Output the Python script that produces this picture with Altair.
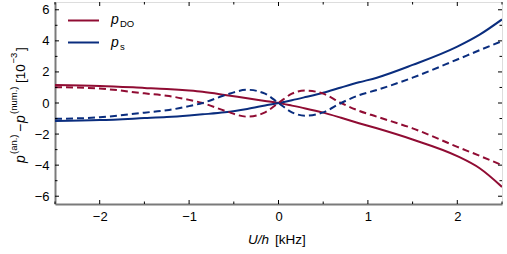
import altair as alt
import pandas as pd

# ---- data ----
x_vals    = [-2.5, -2.0, -1.5, -1.25, -1.0, -0.85, -0.6, -0.35, -0.15, 0.0, 0.15, 0.3, 0.5, 0.7, 0.9, 1.1, 1.5, 2.0, 2.25, 2.5]
do_solid  = [1.16, 1.10, 0.97, 0.90, 0.80, 0.72, 0.52, 0.30, 0.13, 0.0, -0.17, -0.35, -0.62, -0.95, -1.30, -1.63, -2.35, -3.42, -4.20, -5.40]
s_solid   = [-1.16, -1.10, -0.97, -0.90, -0.80, -0.73, -0.60, -0.38, -0.16, 0.0, 0.18, 0.38, 0.66, 1.00, 1.33, 1.63, 2.45, 3.63, 4.40, 5.38]
do_dashed = [1.02, 0.93, 0.62, 0.47, 0.20, 0.0, -0.50, -0.88, -0.60, 0.0, 0.60, 0.80, 0.60, 0.0, -0.50, -0.88, -1.63, -2.82, -3.40, -4.00]
s_dashed  = [-1.02, -0.92, -0.62, -0.47, -0.20, 0.0, 0.50, 0.85, 0.60, 0.0, -0.60, -0.82, -0.60, 0.0, 0.50, 0.84, 1.63, 2.80, 3.40, 3.98]

x_major = [-2, -1, 0, 1, 2]
x_minor = [-2.5, -1.5, -0.5, 0.5, 1.5, 2.5]
y_major = [-6, -4, -2, 0, 2, 4, 6]
y_minor = [-5, -3, -1, 1, 3, 5]

RED = "#900c33"
BLUE = "#0a2d7e"
FONT = "Liberation Sans"
W, H = 447, 202

xs = alt.Scale(domain=[-2.5, 2.5], nice=False, zero=False)
ys = alt.Scale(domain=[-6.5, 6.5], nice=False, zero=False)

def axis(vals):
    return alt.Axis(values=vals, format="~g", ticks=False, grid=False, labelFont=FONT,
                    labelFontSize=13, labelColor="black", labelPadding=6,
                    labelOverlap=False, domainColor="#7a7a7a", domainWidth=2, title=None)

AX = axis(x_major)
AY = axis(y_major)

def line(vals, color, dashed):
    df = pd.DataFrame({"x": x_vals, "y": vals})
    props = dict(color=color, strokeWidth=2, interpolate="monotone", clip=True)
    if dashed:
        props["strokeDash"] = [7, 4]
    return alt.Chart(df).mark_line(**props).encode(
        x=alt.X("x:Q", scale=xs, title=None, axis=AX),
        y=alt.Y("y:Q", scale=ys, title=None, axis=AY),
    )

def xticks(vals, length):
    df = pd.DataFrame({"v": vals})
    base = alt.Chart(df).mark_rule(color="black", strokeWidth=1)
    b = base.encode(x=alt.X("v:Q", scale=xs, title=None, axis=AX), y=alt.value(H), y2=alt.value(H - length))
    t = base.encode(x=alt.X("v:Q", scale=xs, title=None, axis=AX), y=alt.value(0), y2=alt.value(length))
    return [b, t]

def yticks(vals, length):
    df = pd.DataFrame({"v": vals})
    base = alt.Chart(df).mark_rule(color="black", strokeWidth=1)
    l = base.encode(y=alt.Y("v:Q", scale=ys, title=None, axis=AY), x=alt.value(0), x2=alt.value(length))
    r = base.encode(y=alt.Y("v:Q", scale=ys, title=None, axis=AY), x=alt.value(W), x2=alt.value(W - length))
    return [l, r]

def txt(text, x, y, size=13, italic=False, angle=None, align="left"):
    kw = dict(text=text, font=FONT, fontSize=size, color="black", align=align,
              baseline="alphabetic")
    if italic:
        kw["fontStyle"] = "italic"
    if angle is not None:
        kw["angle"] = angle
    return alt.Chart(pd.DataFrame({"a": [0]})).mark_text(**kw).encode(
        x=alt.value(x), y=alt.value(y))

def legline(color, y):
    return alt.Chart(pd.DataFrame({"a": [0]})).mark_rule(color=color, strokeWidth=2).encode(
        x=alt.value(68 - 55), x2=alt.value(99 - 55), y=alt.value(y))

layers = [
    line(do_solid, RED, False),
    line(s_solid, BLUE, False),
    line(do_dashed, RED, True),
    line(s_dashed, BLUE, True),
]
layers += xticks(x_major, 4) + xticks(x_minor, 2.5)
layers += yticks(y_major, 4) + yticks(y_minor, 2.5)

# legend
layers += [
    legline(RED, 20.5 - 2),
    legline(BLUE, 42.5 - 2),
    txt("p", 111 - 55, 24 - 2, size=14, italic=True),
    txt("DO", 120 - 55, 27 - 2, size=9.5),
    txt("p", 111 - 55, 47 - 2, size=14, italic=True),
    txt("s", 120 - 55, 50 - 2, size=9.5),
]

# x title
layers += [
    txt("U/h", 248 - 55, 244 - 2, size=13.5, italic=True),
    txt("[kHz]", 275 - 55, 244 - 2, size=13.5),
]

# y title (rotated pieces, reading bottom to top)
layers += [
    txt("p", 25 - 55, 163 - 2, size=14, italic=True, angle=270),
    txt("(an.)", 17 - 55, 154 - 2, size=9.5, angle=270),
    txt("\u2212", 25 - 55, 132 - 2, size=14, angle=270),
    txt("p", 25 - 55, 123 - 2, size=14, italic=True, angle=270),
    txt("(num.)", 17 - 55, 114 - 2, size=9.5, angle=270),
    txt("[10", 25 - 55, 83 - 2, size=13.5, angle=270),
    txt("\u22123", 17 - 55, 63.5 - 2, size=9.5, angle=270),
    txt("]", 25 - 55, 51 - 2, size=13.5, angle=270),
]

chart = alt.layer(*layers).properties(
    width=W, height=H,
    autosize=alt.AutoSizeParams(type="none"),
    padding={"left": 55, "top": 2, "right": 5, "bottom": 50},
).configure_view(stroke="black", strokeWidth=1).configure(background="white")

chart.save("out.html", embed_options={"renderer": "svg", "actions": False})
